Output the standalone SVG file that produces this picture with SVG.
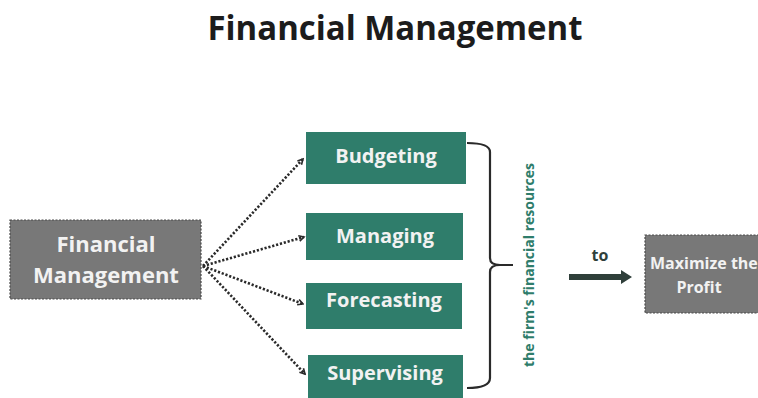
<svg xmlns="http://www.w3.org/2000/svg" width="758" height="398" viewBox="0 0 758 398">
<style>
.title{font-family:"Open Sans","Liberation Sans",sans-serif;font-weight:700;font-size:34px;fill:#1c1c1c;text-anchor:middle}
.gray{fill:#787878;stroke:#4a4a4a;stroke-width:1.2;stroke-dasharray:2 1.5}
.green{fill:#2f7d6b}
.lt{font-family:"Open Sans","Liberation Sans",sans-serif;font-weight:700;fill:#f2f2f2;text-anchor:middle}
.conn{fill:none;stroke:#2a2a2a;stroke-width:2.6;stroke-dasharray:2.2 1.8}
.brace{fill:none;stroke:#2a2a2a;stroke-width:2.2}
.side{font-family:"Open Sans","Liberation Sans",sans-serif;font-weight:700;font-size:14px;fill:#2f7d6b;text-anchor:middle}
.to{font-family:"Open Sans","Liberation Sans",sans-serif;font-weight:700;font-size:16px;fill:#2f3f3a;text-anchor:middle}
</style>
<defs>
<marker id="ah" viewBox="0 0 10 10" refX="8" refY="5" markerWidth="8" markerHeight="8" orient="auto" markerUnits="userSpaceOnUse">
<path d="M1.5,1.5 L8,5 L1.5,8.5" fill="none" stroke="#2a2a2a" stroke-width="2"/>
</marker>
</defs>
<rect width="758" height="398" fill="#ffffff"/>
<text class="title" x="395" y="40" textLength="375" lengthAdjust="spacingAndGlyphs">Financial Management</text>

<g id="connectors">
<path class="conn" d="M203,266 L303,159" marker-end="url(#ah)"/>
<path class="conn" d="M203,266 L304,237" marker-end="url(#ah)"/>
<path class="conn" d="M203,266 L303,304" marker-end="url(#ah)"/>
<path class="conn" d="M203,266 L305,374" marker-end="url(#ah)"/>
<path class="brace" d="M467,143 Q490,143 490,152 L490,258 Q490,265 500,265 L513,265 M500,265 Q490,265 490,272 L490,378 Q490,388 467,388"/>
<path d="M569,274 L621,274 L621,270 L632,277 L621,284 L621,280 L569,280 Z" fill="#2f3f3a"/>
</g>

<g id="fm">
<rect class="gray" x="10" y="220" width="191" height="79"/>
<text class="lt" x="106" y="252" font-size="22">Financial</text>
<text class="lt" x="106" y="283" font-size="22">Management</text>
</g>

<g id="budgeting">
<rect class="green" x="306" y="132" width="160" height="52"/>
<text class="lt" x="386" y="163" font-size="20">Budgeting</text>
</g>
<g id="managing">
<rect class="green" x="306" y="213" width="157" height="47"/>
<text class="lt" x="385" y="243" font-size="20">Managing</text>
</g>
<g id="forecasting">
<rect class="green" x="306" y="283" width="156" height="46"/>
<text class="lt" x="384" y="307" font-size="20">Forecasting</text>
</g>
<g id="supervising">
<rect class="green" x="308" y="355" width="155" height="50"/>
<text class="lt" x="385" y="380" font-size="20">Supervising</text>
</g>

<g id="resources">
<text class="side" transform="translate(534,265) rotate(-90)">the firm's financial resources</text>
</g>

<g id="to">
<text class="to" x="600" y="261">to</text>
</g>

<g id="profit">
<rect class="gray" x="645" y="235" width="120" height="78"/>
<text class="lt" x="650" y="269" font-size="16" style="text-anchor:start">Maximize the</text>
<text class="lt" x="699" y="293" font-size="16">Profit</text>
</g>
</svg>
